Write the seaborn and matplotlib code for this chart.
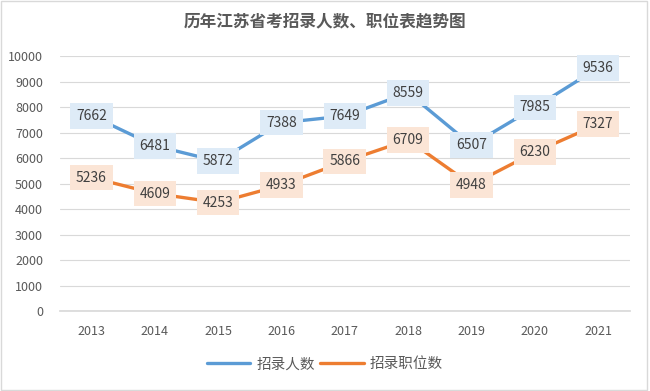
import pandas as pd
import numpy as np
import matplotlib.pyplot as plt
import seaborn as sns
from matplotlib.patches import Rectangle

years = ['2013', '2014', '2015', '2016', '2017', '2018', '2019', '2020', '2021']
recruits = [7662, 6481, 5872, 7388, 7649, 8559, 6507, 7985, 9536]
positions = [5236, 4609, 4253, 4933, 5866, 6709, 4948, 6230, 7327]
series_names = ['招录人数', '招录职位数']

sns.set_theme(style='white')
plt.rcParams['font.family'] = ['Noto Sans CJK SC', 'DejaVu Sans']

df = pd.DataFrame({
    'year': years * 2,
    'value': recruits + positions,
    'series': [series_names[0]] * len(years) + [series_names[1]] * len(years),
})

colors = {'招录人数': '#5B9BD5', '招录职位数': '#ED7D31'}
boxes = {'招录人数': '#DEEBF7', '招录职位数': '#FBE5D6'}

fig = plt.figure(figsize=(6.5, 3.91), dpi=100)
ax = fig.add_axes([0.092, 0.2046, 0.877, 0.652])
sns.lineplot(data=df, x='year', y='value', hue='series', palette=colors,
             linewidth=2.4, sort=False, ax=ax)

for name in series_names:
    sub = df[df['series'] == name]
    for i, v in enumerate(sub['value']):
        ax.text(i, v, str(v), ha='center', va='center', fontsize=10, color='#404040',
                bbox=dict(boxstyle='square,pad=0.42', facecolor=boxes[name], edgecolor='none'),
                zorder=5)

ax.set_xlim(-0.5, len(years) - 0.5)
ax.set_ylim(0, 10000)
ax.set_yticks(np.arange(0, 10001, 1000))
ax.grid(axis='y', color='#D9D9D9', linewidth=0.8)
ax.set_axisbelow(True)
for s in ['top', 'right', 'left']:
    ax.spines[s].set_visible(False)
ax.spines['bottom'].set_color('#D9D9D9')
ax.tick_params(axis='both', length=0, labelsize=9, colors='#595959')
ax.tick_params(axis='x', pad=10)
ax.tick_params(axis='y', pad=12)
ax.set_xlabel('')
ax.set_ylabel('')

handles, labels = ax.get_legend_handles_labels()
ax.legend(handles, labels, loc='upper center', bbox_to_anchor=(0.465, -0.13), ncol=2,
          frameon=False, fontsize=10.5, handlelength=3.0, handletextpad=0.4,
          columnspacing=0.4, labelcolor='#595959')

fig.text(0.5, 0.945, '历年江苏省考招录人数、职位表趋势图', ha='center', va='center',
         fontsize=12, fontweight='bold', color='#595959')
fig.patches.append(Rectangle((0.002, 0.003), 0.994, 0.994, transform=fig.transFigure,
                             fill=False, edgecolor='#D9D9D9', linewidth=1))

fig.savefig('out.png', dpi=100)
